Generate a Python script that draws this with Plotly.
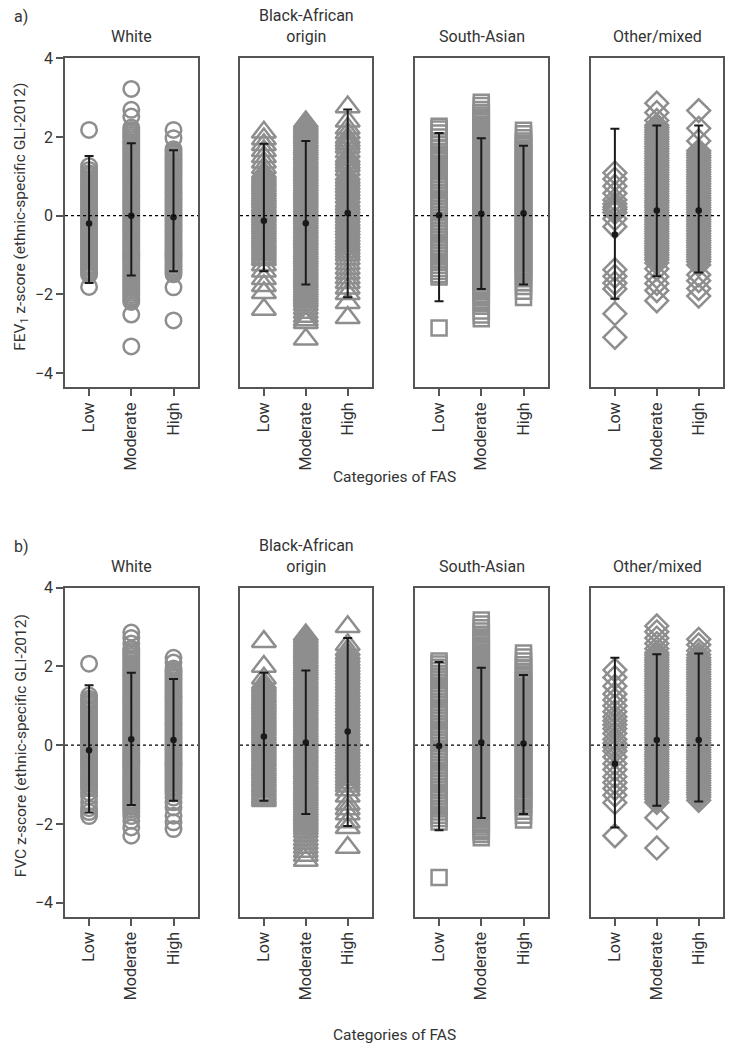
import plotly.graph_objects as go

# ---------------- categories / labels ----------------
groups = ["White", "Black-African<br>origin", "South-Asian", "Other/mixed"]
categories = ["Low", "Moderate", "High"]
symbols = ["circle-open", "triangle-up-open", "square-open", "diamond-open"]
panel_labels = ["a)", "b)"]
y_titles = ["FEV<sub>1</sub> z-score (ethnic-specific GLI-2012)",
            "FVC z-score (ethnic-specific GLI-2012)"]
x_title = "Categories of FAS"
y_ticks = [-4, -2, 0, 2, 4]

# ---------------- a) FEV1 individual z-scores ----------------
fev1_white_low = [2.18, 1.26, 1.16, 1.08, 1.02, 0.96, 0.9, 0.84, 0.78, 0.72, 0.66, 0.6, 0.54, 0.48, 0.42, 0.36, 0.3, 0.24, 0.18, 0.12, 0.06, 0.0, -0.06, -0.12, -0.18, -0.24, -0.3, -0.36, -0.42, -0.48, -0.54, -0.6, -0.66, -0.72, -0.78, -0.84, -0.9, -0.96, -1.02, -1.08, -1.14, -1.2, -1.26, -1.32, -1.38, -1.44, -1.5, -1.81]
fev1_white_mod = [3.22, 2.69, 2.52, 2.24, 2.18, 2.12, 2.06, 2.0, 1.94, 1.88, 1.82, 1.76, 1.7, 1.64, 1.58, 1.52, 1.46, 1.4, 1.34, 1.28, 1.22, 1.16, 1.1, 1.04, 0.98, 0.92, 0.86, 0.8, 0.74, 0.68, 0.62, 0.56, 0.5, 0.44, 0.38, 0.32, 0.26, 0.2, 0.14, 0.08, 0.02, -0.04, -0.1, -0.16, -0.22, -0.28, -0.34, -0.4, -0.46, -0.52, -0.58, -0.64, -0.7, -0.76, -0.82, -0.88, -0.94, -1.0, -1.06, -1.12, -1.18, -1.24, -1.3, -1.36, -1.42, -1.48, -1.54, -1.6, -1.66, -1.72, -1.78, -1.84, -1.9, -1.96, -2.02, -2.08, -2.14, -2.19, -2.51, -3.32]
fev1_white_high = [2.18, 1.97, 1.69, 1.63, 1.57, 1.51, 1.45, 1.39, 1.33, 1.27, 1.21, 1.15, 1.09, 1.03, 0.97, 0.91, 0.85, 0.79, 0.73, 0.67, 0.61, 0.55, 0.49, 0.43, 0.37, 0.31, 0.25, 0.19, 0.13, 0.07, 0.01, -0.05, -0.11, -0.17, -0.23, -0.29, -0.35, -0.41, -0.47, -0.53, -0.59, -0.65, -0.71, -0.77, -0.83, -0.89, -0.95, -1.01, -1.07, -1.13, -1.19, -1.25, -1.31, -1.37, -1.43, -1.49, -1.82, -2.66]
fev1_black_low = [2.12, 1.95, 1.8, 1.65, 1.5, 1.36, 1.22, 1.1, 1.04, 0.98, 0.92, 0.86, 0.8, 0.74, 0.68, 0.62, 0.56, 0.5, 0.44, 0.38, 0.32, 0.26, 0.2, 0.14, 0.08, 0.02, -0.04, -0.1, -0.16, -0.22, -0.28, -0.34, -0.4, -0.46, -0.52, -0.58, -0.64, -0.7, -0.76, -0.82, -0.88, -0.94, -1.0, -1.06, -1.12, -1.25, -1.41, -1.6, -1.78, -1.96, -2.38]
fev1_black_mod = [2.38, 2.32, 2.26, 2.2, 2.14, 2.08, 2.02, 1.96, 1.9, 1.84, 1.78, 1.72, 1.66, 1.6, 1.54, 1.48, 1.42, 1.36, 1.3, 1.24, 1.18, 1.12, 1.06, 1.0, 0.94, 0.88, 0.82, 0.76, 0.7, 0.64, 0.58, 0.52, 0.46, 0.4, 0.34, 0.28, 0.22, 0.16, 0.1, 0.04, -0.02, -0.08, -0.14, -0.2, -0.26, -0.32, -0.38, -0.44, -0.5, -0.56, -0.62, -0.68, -0.74, -0.8, -0.86, -0.92, -0.98, -1.04, -1.1, -1.16, -1.22, -1.28, -1.34, -1.4, -1.46, -1.52, -1.58, -1.64, -1.7, -1.76, -1.82, -1.88, -1.94, -2.0, -2.06, -2.12, -2.18, -2.26, -2.36, -2.46, -2.56, -2.65, -2.72, -3.14]
fev1_black_high = [2.76, 2.4, 2.22, 2.1, 1.98, 1.9, 1.82, 1.74, 1.62, 1.5, 1.42, 1.34, 1.26, 1.16, 1.04, 0.96, 0.88, 0.8, 0.72, 0.64, 0.56, 0.46, 0.36, 0.28, 0.2, 0.12, 0.04, -0.04, -0.12, -0.2, -0.28, -0.36, -0.44, -0.52, -0.6, -0.68, -0.76, -0.84, -0.92, -1.0, -1.1, -1.22, -1.34, -1.46, -1.58, -1.7, -1.84, -1.98, -2.21, -2.59]
fev1_south_low = [2.27, 2.2, 2.1, 2.0, 1.9, 1.8, 1.72, 1.64, 1.56, 1.48, 1.4, 1.3, 1.22, 1.14, 1.06, 0.98, 0.9, 0.82, 0.74, 0.66, 0.58, 0.5, 0.42, 0.34, 0.26, 0.18, 0.1, 0.02, -0.06, -0.14, -0.22, -0.3, -0.38, -0.46, -0.54, -0.62, -0.7, -0.78, -0.86, -0.94, -1.02, -1.1, -1.18, -1.26, -1.34, -1.42, -1.5, -1.56, -2.85]
fev1_south_mod = [2.88, 2.8, 2.7, 2.62, 2.56, 2.5, 2.44, 2.38, 2.32, 2.26, 2.2, 2.14, 2.08, 2.02, 1.96, 1.9, 1.84, 1.78, 1.72, 1.66, 1.6, 1.54, 1.48, 1.42, 1.36, 1.3, 1.24, 1.18, 1.12, 1.06, 1.0, 0.94, 0.88, 0.82, 0.76, 0.7, 0.64, 0.58, 0.52, 0.46, 0.4, 0.34, 0.28, 0.22, 0.16, 0.1, 0.04, -0.02, -0.08, -0.14, -0.2, -0.26, -0.32, -0.38, -0.44, -0.5, -0.56, -0.62, -0.68, -0.74, -0.8, -0.86, -0.92, -0.98, -1.04, -1.1, -1.16, -1.22, -1.28, -1.34, -1.4, -1.46, -1.52, -1.58, -1.64, -1.7, -1.76, -1.82, -1.88, -1.94, -2.0, -2.08, -2.18, -2.3, -2.42, -2.52, -2.62]
fev1_south_high = [2.17, 2.08, 1.98, 1.9, 1.84, 1.78, 1.72, 1.66, 1.6, 1.54, 1.48, 1.42, 1.36, 1.3, 1.24, 1.18, 1.12, 1.06, 1.0, 0.94, 0.88, 0.82, 0.76, 0.7, 0.64, 0.58, 0.52, 0.46, 0.4, 0.34, 0.28, 0.22, 0.16, 0.1, 0.04, -0.02, -0.08, -0.14, -0.2, -0.26, -0.32, -0.38, -0.44, -0.5, -0.56, -0.62, -0.68, -0.74, -0.8, -0.86, -0.92, -0.98, -1.04, -1.1, -1.16, -1.22, -1.28, -1.34, -1.4, -1.46, -1.52, -1.6, -1.7, -1.8, -1.92, -2.08]
fev1_other_low = [1.09, 0.93, 0.75, 0.57, 0.4, 0.3, 0.22, 0.16, 0.08, -0.08, -0.28, -1.37, -1.54, -1.71, -1.86, -2.49, -3.09]
fev1_other_mod = [2.86, 2.62, 2.42, 2.3, 2.24, 2.18, 2.12, 2.06, 2.0, 1.94, 1.88, 1.82, 1.76, 1.7, 1.64, 1.58, 1.52, 1.46, 1.4, 1.34, 1.28, 1.22, 1.16, 1.1, 1.04, 0.98, 0.92, 0.86, 0.8, 0.74, 0.68, 0.62, 0.56, 0.5, 0.44, 0.38, 0.32, 0.26, 0.2, 0.14, 0.08, 0.02, -0.04, -0.1, -0.16, -0.22, -0.28, -0.34, -0.4, -0.46, -0.52, -0.58, -0.64, -0.7, -0.76, -0.82, -0.88, -0.94, -1.0, -1.06, -1.12, -1.2, -1.35, -1.55, -1.72, -1.9, -2.16]
fev1_other_high = [2.67, 2.22, 1.9, 1.65, 1.59, 1.53, 1.47, 1.41, 1.35, 1.29, 1.23, 1.17, 1.11, 1.05, 0.99, 0.93, 0.87, 0.81, 0.75, 0.69, 0.63, 0.57, 0.51, 0.45, 0.39, 0.33, 0.27, 0.21, 0.15, 0.09, 0.03, -0.03, -0.09, -0.15, -0.21, -0.27, -0.33, -0.39, -0.45, -0.51, -0.57, -0.63, -0.69, -0.75, -0.81, -0.87, -0.93, -0.99, -1.05, -1.11, -1.17, -1.25, -1.5, -1.65, -1.85, -2.04]

# summary (mean, upper, lower) per group: Low, Moderate, High
fev1_mean = {"White": [-0.2, 0.0, -0.04], "Black": [-0.13, -0.19, 0.07],
             "South": [0.01, 0.05, 0.06], "Other": [-0.48, 0.13, 0.13]}
fev1_upper = {"White": [1.52, 1.84, 1.66], "Black": [1.83, 1.9, 2.7],
              "South": [2.1, 1.97, 1.78], "Other": [2.21, 2.29, 2.29]}
fev1_lower = {"White": [-1.71, -1.52, -1.41], "Black": [-1.41, -1.75, -2.07],
              "South": [-2.17, -1.86, -1.75], "Other": [-2.11, -1.54, -1.44]}

# ---------------- b) FVC individual z-scores ----------------
fvc_white_low = [2.07, 1.26, 1.18, 1.12, 1.06, 1.0, 0.94, 0.88, 0.82, 0.76, 0.7, 0.64, 0.58, 0.52, 0.46, 0.4, 0.34, 0.28, 0.22, 0.16, 0.1, 0.04, -0.02, -0.08, -0.14, -0.2, -0.26, -0.32, -0.38, -0.44, -0.5, -0.56, -0.62, -0.68, -0.74, -0.8, -0.86, -0.92, -0.98, -1.04, -1.1, -1.2, -1.3, -1.45, -1.6, -1.7, -1.8]
fvc_white_mod = [2.86, 2.72, 2.58, 2.45, 2.39, 2.33, 2.27, 2.21, 2.15, 2.09, 2.03, 1.97, 1.91, 1.85, 1.79, 1.73, 1.67, 1.61, 1.55, 1.49, 1.43, 1.37, 1.31, 1.25, 1.19, 1.13, 1.07, 1.01, 0.95, 0.89, 0.83, 0.77, 0.71, 0.65, 0.59, 0.53, 0.47, 0.41, 0.35, 0.29, 0.23, 0.17, 0.11, 0.05, -0.01, -0.07, -0.13, -0.19, -0.25, -0.31, -0.37, -0.43, -0.49, -0.55, -0.61, -0.67, -0.73, -0.79, -0.85, -0.91, -0.97, -1.03, -1.09, -1.15, -1.21, -1.27, -1.33, -1.39, -1.45, -1.51, -1.57, -1.63, -1.7, -1.8, -1.92, -2.09, -2.3]
fvc_white_high = [2.22, 2.1, 1.95, 1.89, 1.83, 1.77, 1.71, 1.65, 1.59, 1.53, 1.47, 1.41, 1.35, 1.29, 1.23, 1.17, 1.11, 1.05, 0.99, 0.93, 0.87, 0.81, 0.75, 0.69, 0.63, 0.57, 0.51, 0.45, 0.39, 0.33, 0.27, 0.21, 0.15, 0.09, 0.03, -0.03, -0.09, -0.15, -0.21, -0.27, -0.33, -0.39, -0.45, -0.51, -0.57, -0.63, -0.69, -0.75, -0.81, -0.87, -0.93, -0.99, -1.05, -1.11, -1.17, -1.23, -1.33, -1.45, -1.58, -1.79, -1.96, -2.13]
fvc_black_low = [2.63, 2.0, 1.7, 1.57, 1.51, 1.45, 1.39, 1.33, 1.27, 1.21, 1.15, 1.09, 1.03, 0.97, 0.91, 0.85, 0.79, 0.73, 0.67, 0.61, 0.55, 0.49, 0.43, 0.37, 0.31, 0.25, 0.19, 0.13, 0.07, 0.01, -0.05, -0.11, -0.17, -0.23, -0.29, -0.35, -0.41, -0.47, -0.53, -0.59, -0.65, -0.71, -0.77, -0.83, -0.89, -0.95, -1.01, -1.07, -1.13, -1.19, -1.25, -1.31, -1.36, -1.41]
fvc_black_mod = [2.8, 2.74, 2.68, 2.62, 2.56, 2.5, 2.44, 2.38, 2.32, 2.26, 2.2, 2.14, 2.08, 2.02, 1.96, 1.9, 1.84, 1.78, 1.72, 1.66, 1.6, 1.54, 1.48, 1.42, 1.36, 1.3, 1.24, 1.18, 1.12, 1.06, 1.0, 0.94, 0.88, 0.82, 0.76, 0.7, 0.64, 0.58, 0.52, 0.46, 0.4, 0.34, 0.28, 0.22, 0.16, 0.1, 0.04, -0.02, -0.08, -0.14, -0.2, -0.26, -0.32, -0.38, -0.44, -0.5, -0.56, -0.62, -0.68, -0.74, -0.8, -0.86, -0.92, -0.98, -1.04, -1.1, -1.16, -1.22, -1.28, -1.34, -1.4, -1.46, -1.52, -1.58, -1.64, -1.7, -1.76, -1.82, -1.88, -1.94, -2.0, -2.06, -2.12, -2.2, -2.3, -2.4, -2.5, -2.6, -2.7, -2.8, -2.93]
fvc_black_high = [3.01, 2.55, 2.42, 2.32, 2.24, 2.16, 2.08, 2.0, 1.92, 1.84, 1.76, 1.68, 1.6, 1.52, 1.44, 1.36, 1.28, 1.2, 1.12, 1.04, 0.96, 0.88, 0.8, 0.72, 0.64, 0.56, 0.48, 0.4, 0.32, 0.24, 0.16, 0.08, 0.0, -0.08, -0.16, -0.24, -0.32, -0.4, -0.48, -0.56, -0.64, -0.72, -0.8, -0.88, -0.96, -1.04, -1.14, -1.3, -1.5, -1.62, -1.75, -1.95, -2.1, -2.6]
fvc_south_low = [2.14, 2.06, 1.98, 1.9, 1.82, 1.74, 1.66, 1.58, 1.5, 1.42, 1.34, 1.26, 1.18, 1.1, 1.02, 0.94, 0.86, 0.78, 0.7, 0.62, 0.54, 0.46, 0.38, 0.3, 0.22, 0.14, 0.06, -0.02, -0.1, -0.18, -0.26, -0.34, -0.42, -0.5, -0.58, -0.66, -0.74, -0.82, -0.9, -0.98, -1.06, -1.14, -1.22, -1.3, -1.38, -1.46, -1.54, -1.62, -1.7, -1.78, -1.86, -1.95, -3.36]
fvc_south_mod = [3.18, 3.08, 2.98, 2.9, 2.82, 2.74, 2.66, 2.6, 2.54, 2.48, 2.42, 2.36, 2.3, 2.24, 2.18, 2.12, 2.06, 2.0, 1.94, 1.88, 1.82, 1.76, 1.7, 1.64, 1.58, 1.52, 1.46, 1.4, 1.34, 1.28, 1.22, 1.16, 1.1, 1.04, 0.98, 0.92, 0.86, 0.8, 0.74, 0.68, 0.62, 0.56, 0.5, 0.44, 0.38, 0.32, 0.26, 0.2, 0.14, 0.08, 0.02, -0.04, -0.1, -0.16, -0.22, -0.28, -0.34, -0.4, -0.46, -0.52, -0.58, -0.64, -0.7, -0.76, -0.82, -0.88, -0.94, -1.0, -1.06, -1.12, -1.18, -1.24, -1.3, -1.36, -1.42, -1.48, -1.54, -1.6, -1.66, -1.72, -1.78, -1.84, -1.9, -1.96, -2.02, -2.08, -2.14, -2.2, -2.27, -2.35]
fvc_south_high = [2.34, 2.24, 2.14, 2.04, 1.96, 1.88, 1.8, 1.74, 1.68, 1.62, 1.56, 1.5, 1.44, 1.38, 1.32, 1.26, 1.2, 1.14, 1.08, 1.02, 0.96, 0.9, 0.84, 0.78, 0.72, 0.66, 0.6, 0.54, 0.48, 0.42, 0.36, 0.3, 0.24, 0.18, 0.12, 0.06, 0.0, -0.06, -0.12, -0.18, -0.24, -0.3, -0.36, -0.42, -0.48, -0.54, -0.6, -0.66, -0.72, -0.78, -0.84, -0.9, -0.96, -1.02, -1.08, -1.14, -1.2, -1.26, -1.32, -1.38, -1.44, -1.5, -1.58, -1.68, -1.78, -1.9]
fvc_other_low = [1.91, 1.72, 1.5, 1.3, 1.15, 1.0, 0.85, 0.72, 0.62, 0.52, 0.42, 0.3, 0.15, 0.05, -0.05, -0.15, -0.3, -0.47, -0.62, -0.8, -0.95, -1.1, -1.27, -1.46, -2.3]
fvc_other_mod = [3.03, 2.88, 2.72, 2.58, 2.45, 2.35, 2.29, 2.23, 2.17, 2.11, 2.05, 1.99, 1.93, 1.87, 1.81, 1.75, 1.69, 1.63, 1.57, 1.51, 1.45, 1.39, 1.33, 1.27, 1.21, 1.15, 1.09, 1.03, 0.97, 0.91, 0.85, 0.79, 0.73, 0.67, 0.61, 0.55, 0.49, 0.43, 0.37, 0.31, 0.25, 0.19, 0.13, 0.07, 0.01, -0.05, -0.11, -0.17, -0.23, -0.29, -0.35, -0.41, -0.47, -0.53, -0.59, -0.65, -0.71, -0.77, -0.83, -0.89, -0.95, -1.01, -1.07, -1.13, -1.19, -1.25, -1.31, -1.37, -1.45, -1.84, -2.61]
fvc_other_high = [2.69, 2.55, 2.4, 2.3, 2.22, 2.16, 2.1, 2.04, 1.98, 1.92, 1.86, 1.8, 1.74, 1.68, 1.62, 1.56, 1.5, 1.44, 1.38, 1.32, 1.26, 1.2, 1.14, 1.08, 1.02, 0.96, 0.9, 0.84, 0.78, 0.72, 0.66, 0.6, 0.54, 0.48, 0.42, 0.36, 0.3, 0.24, 0.18, 0.12, 0.06, 0.0, -0.06, -0.12, -0.18, -0.24, -0.3, -0.36, -0.42, -0.48, -0.54, -0.6, -0.66, -0.72, -0.78, -0.84, -0.9, -0.96, -1.02, -1.08, -1.14, -1.2, -1.26, -1.32, -1.4]

fvc_mean = {"White": [-0.13, 0.15, 0.13], "Black": [0.22, 0.07, 0.35],
            "South": [-0.02, 0.07, 0.04], "Other": [-0.47, 0.13, 0.13]}
fvc_upper = {"White": [1.52, 1.84, 1.68], "Black": [1.84, 1.9, 2.72],
             "South": [2.11, 1.97, 1.78], "Other": [2.22, 2.31, 2.33]}
fvc_lower = {"White": [-1.71, -1.52, -1.41], "Black": [-1.41, -1.75, -2.05],
             "South": [-2.16, -1.85, -1.75], "Other": [-2.09, -1.54, -1.43]}

# ---------------- assemble ----------------
group_keys = ["White", "Black", "South", "Other"]
rows = [
    {
        "points": {
            "White": [fev1_white_low, fev1_white_mod, fev1_white_high],
            "Black": [fev1_black_low, fev1_black_mod, fev1_black_high],
            "South": [fev1_south_low, fev1_south_mod, fev1_south_high],
            "Other": [fev1_other_low, fev1_other_mod, fev1_other_high],
        },
        "mean": fev1_mean, "upper": fev1_upper, "lower": fev1_lower,
    },
    {
        "points": {
            "White": [fvc_white_low, fvc_white_mod, fvc_white_high],
            "Black": [fvc_black_low, fvc_black_mod, fvc_black_high],
            "South": [fvc_south_low, fvc_south_mod, fvc_south_high],
            "Other": [fvc_other_low, fvc_other_mod, fvc_other_high],
        },
        "mean": fvc_mean, "upper": fvc_upper, "lower": fvc_lower,
    },
]

W, H = 738, 1050
col_px = [(65, 198), (240, 372), (415, 548), (591, 723)]
row_px = [(49.7, 381.6), (583.7, 915.7)]
xtitle_px = [471.6, 1034.9]
marker_sizes = [15.5, 21, 15, 17.5]
GRAY = "#8e8e8e"
AXC = "#555555"
TXT = "#333333"
FONT = "Roboto"


def px_x(x):
    return x / W


def px_y(y):
    return 1 - y / H


fig = go.Figure()
layout_axes = {}
shapes = []
annotations = []

n = 0
for r, row in enumerate(rows):
    y0p, y1p = row_px[r]
    for c, g in enumerate(group_keys):
        n += 1
        xs = "x" if n == 1 else f"x{n}"
        ys = "y" if n == 1 else f"y{n}"
        xk = "xaxis" if n == 1 else f"xaxis{n}"
        yk = "yaxis" if n == 1 else f"yaxis{n}"
        for k, cat in enumerate(categories):
            vals = row["points"][g][k]
            fig.add_trace(go.Scatter(
                x=[cat] * len(vals), y=vals, mode="markers", xaxis=xs, yaxis=ys,
                marker=dict(symbol=symbols[c], size=marker_sizes[c], color=GRAY,
                            line=dict(width=2.5, color=GRAY)),
                showlegend=False, hoverinfo="y"))
        m = row["mean"][g]
        up = row["upper"][g]
        lo = row["lower"][g]
        fig.add_trace(go.Scatter(
            x=categories, y=m, mode="markers", xaxis=xs, yaxis=ys,
            marker=dict(symbol="circle", size=6.5, color="#1a1a1a"),
            error_y=dict(type="data", symmetric=False,
                         array=[u - v for u, v in zip(up, m)],
                         arrayminus=[v - l for v, l in zip(m, lo)],
                         color="#1a1a1a", thickness=2, width=4.5),
            showlegend=False, hoverinfo="y"))
        x0p, x1p = col_px[c]
        layout_axes[xk] = dict(
            domain=[px_x(x0p), px_x(x1p)], anchor=ys, type="category",
            categoryorder="array", categoryarray=categories,
            range=[-0.57, 2.58], showgrid=False, zeroline=False,
            showline=True, mirror=True, linecolor=AXC, linewidth=1.5,
            ticks="outside", ticklen=7, tickwidth=1.5, tickcolor=AXC,
            tickangle=-90, tickfont=dict(family=FONT, size=16, color=TXT))
        layout_axes[yk] = dict(
            domain=[px_y(y1p), px_y(y0p)], anchor=xs,
            range=[-4.36, 4.0], showgrid=False, zeroline=False,
            showline=True, mirror=True, linecolor=AXC, linewidth=1.5,
            tickvals=y_ticks, ticks="outside" if c == 0 else "",
            ticklen=7, tickwidth=1.5, tickcolor=AXC,
            showticklabels=(c == 0),
            tickfont=dict(family=FONT, size=16, color=TXT))
        shapes.append(dict(type="line", xref=f"{xs} domain", yref=ys,
                           x0=0, x1=1, y0=0, y1=0, layer="above",
                           line=dict(color="black", width=1.2, dash="dot")))
        annotations.append(dict(
            text=groups[c], x=px_x((x0p + x1p) / 2), y=px_y(y0p - 10),
            xref="paper", yref="paper", xanchor="center", yanchor="bottom",
            showarrow=False, font=dict(family=FONT, size=16, color=TXT)))
    annotations.append(dict(
        text=panel_labels[r], x=px_x(12), y=px_y(y0p - 42),
        xref="paper", yref="paper", xanchor="left", yanchor="middle",
        showarrow=False, font=dict(family=FONT, size=16, color=TXT)))
    annotations.append(dict(
        text=y_titles[r], x=px_x(21), y=px_y((y0p + y1p) / 2 - 6),
        xref="paper", yref="paper", xanchor="center", yanchor="middle",
        textangle=-90, showarrow=False,
        font=dict(family=FONT, size=15.5, color=TXT)))
    annotations.append(dict(
        text=x_title, x=px_x(394), y=px_y(xtitle_px[r]),
        xref="paper", yref="paper", xanchor="center", yanchor="middle",
        showarrow=False, font=dict(family=FONT, size=15.5, color=TXT)))

fig.update_layout(
    width=W, height=H, margin=dict(l=0, r=0, t=0, b=0),
    paper_bgcolor="white", plot_bgcolor="white",
    font=dict(family=FONT, size=15, color=TXT),
    shapes=shapes, annotations=annotations, showlegend=False,
    **layout_axes)

fig.write_html("out.html", config={"displayModeBar": False},
               post_script="document.body.style.margin='0';")
